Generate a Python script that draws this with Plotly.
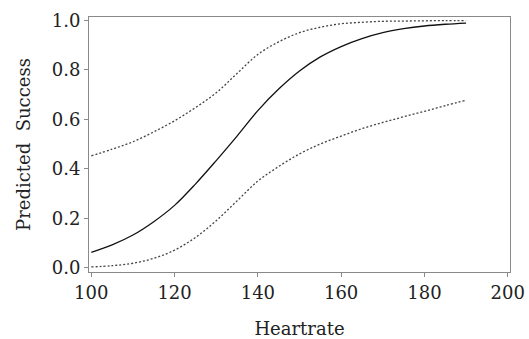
import plotly.graph_objects as go

heartrate = [100, 105, 110, 115, 120, 125, 130, 135, 140, 145, 150, 155, 160, 165, 170, 175, 180, 185, 190]
predicted = [0.062, 0.092, 0.132, 0.186, 0.252, 0.338, 0.433, 0.532, 0.635, 0.722, 0.795, 0.852, 0.894, 0.926, 0.950, 0.966, 0.977, 0.984, 0.989]
upper_ci = [0.452, 0.479, 0.509, 0.549, 0.594, 0.647, 0.707, 0.785, 0.862, 0.913, 0.950, 0.972, 0.986, 0.992, 0.996, 0.997, 0.998, 0.999, 0.999]
lower_ci = [0.003, 0.008, 0.018, 0.038, 0.071, 0.122, 0.190, 0.270, 0.350, 0.409, 0.460, 0.500, 0.532, 0.562, 0.587, 0.610, 0.632, 0.655, 0.677]

x_ticks = [100, 120, 140, 160, 180, 200]
y_ticks = [0.0, 0.2, 0.4, 0.6, 0.8, 1.0]
y_ticklabels = ["0.0", "0.2", "0.4", "0.6", "0.8", "1.0"]

FONT = "DejaVu Serif"

fig = go.Figure()
fig.add_trace(go.Scatter(x=heartrate, y=upper_ci, mode="lines", line_shape="spline",
                         line=dict(color="#444444", width=1.3, dash="2px,2px"),
                         showlegend=False))
fig.add_trace(go.Scatter(x=heartrate, y=lower_ci, mode="lines", line_shape="spline",
                         line=dict(color="#444444", width=1.3, dash="2px,2px"),
                         showlegend=False))
fig.add_trace(go.Scatter(x=heartrate, y=predicted, mode="lines", line_shape="spline",
                         line=dict(color="#111111", width=1.3),
                         showlegend=False))

axis_common = dict(showline=True, linecolor="#8a8a8a", linewidth=1, mirror=True,
                   ticks="outside", ticklen=4, tickcolor="#8a8a8a", tickwidth=1,
                   showgrid=False, zeroline=False, automargin=False,
                   tickfont=dict(family=FONT, size=18, color="#222222"))

fig.update_layout(
    width=529, height=339,
    margin=dict(l=89, r=19, t=17, b=67),
    paper_bgcolor="white", plot_bgcolor="white",
    xaxis=dict(range=[99.45, 200.55], tickvals=x_ticks,
               title=dict(text="Heartrate", font=dict(family=FONT, size=18, color="#222222"), standoff=21),
               **axis_common),
    yaxis=dict(range=[-0.0174, 1.0134], tickvals=y_ticks, ticktext=y_ticklabels,
               title=dict(text="Predicted  Success", font=dict(family=FONT, size=18, color="#222222"), standoff=16),
               **axis_common),
)

fig.write_html("out.html", config={"displayModeBar": False},
               post_script="document.body.style.margin='0';")
